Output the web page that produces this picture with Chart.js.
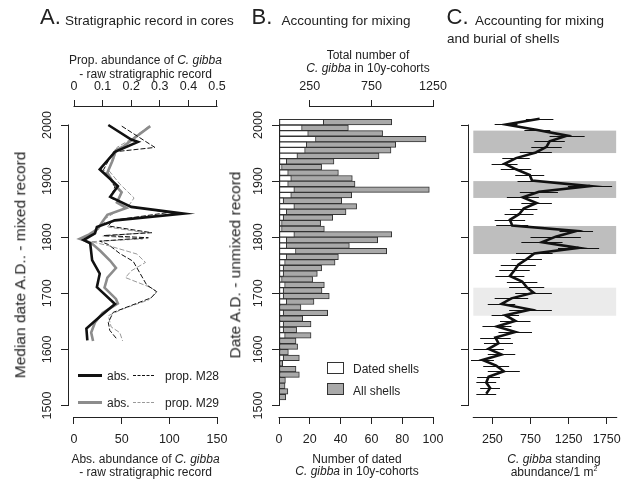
<!DOCTYPE html>
<html><head><meta charset="utf-8">
<script src="https://cdn.jsdelivr.net/npm/chart.js@4"></script>
<style>
html,body{margin:0;padding:0;background:#fff}
body{width:621px;height:481px;overflow:hidden;position:relative;font-family:"Liberation Sans",Arial,Helvetica,sans-serif;color:#222}
canvas{position:absolute;top:0}
.t{position:absolute;white-space:nowrap;line-height:1}
.c{transform:translateX(-50%)}
.r{transform:translate(-50%,-50%) rotate(-90deg)}
.ln{position:absolute;height:0}
.sq{position:absolute;border:1px solid #333;box-sizing:border-box}
</style></head><body>
<canvas id="cA" width="232" height="481" style="left:0"></canvas>
<canvas id="cB" width="224" height="481" style="left:226px"></canvas>
<canvas id="cC" width="173" height="481" style="left:448px"></canvas>

<!-- titles -->
<div class="t" style="left:40px;top:6.4px;font-size:22px">A.</div>
<div class="t" style="left:65px;top:14.1px;font-size:13.5px">Stratigraphic record in cores</div>
<div class="t" style="left:251.5px;top:6.4px;font-size:22px">B.</div>
<div class="t" style="left:281.5px;top:14.1px;font-size:13.5px">Accounting for mixing</div>
<div class="t" style="left:446.5px;top:6.4px;font-size:22px">C.</div>
<div class="t" style="left:475px;top:14.1px;font-size:13.5px">Accounting for mixing</div>
<div class="t" style="left:447px;top:32.1px;font-size:13.5px">and burial of shells</div>

<!-- axis titles -->
<div class="t c" style="left:145.5px;top:54.3px;font-size:12px">Prop. abundance of <i>C. gibba</i></div>
<div class="t c" style="left:145.5px;top:68.3px;font-size:12px">- raw stratigraphic record</div>
<div class="t c" style="left:145.5px;top:452.6px;font-size:12px">Abs. abundance of <i>C. gibba</i></div>
<div class="t c" style="left:145.5px;top:466.3px;font-size:12px">- raw stratigraphic record</div>
<div class="t r" style="left:20px;top:265px;font-size:15.5px">Median date A.D.. - mixed record</div>

<div class="t c" style="left:368px;top:49.3px;font-size:12px">Total number of</div>
<div class="t c" style="left:368px;top:62px;font-size:12px"><i>C. gibba</i> in 10y-cohorts</div>
<div class="t c" style="left:357px;top:453.1px;font-size:12px">Number of dated</div>
<div class="t c" style="left:357px;top:465px;font-size:12px"><i>C. gibba</i> in 10y-cohorts</div>
<div class="t r" style="left:235px;top:265px;font-size:15.5px">Date A.D. - unmixed record</div>

<div class="t c" style="left:554px;top:452.5px;font-size:12px"><i>C. gibba</i> standing</div>
<div class="t c" style="left:554px;top:465.8px;font-size:12px">abundance/1 m<sup style="font-size:7px;vertical-align:5px;line-height:0">2</sup></div>

<!-- legend A -->
<div class="ln" style="left:78px;top:373.5px;width:24px;border-top:3px solid #111"></div>
<div class="t" style="left:107px;top:369.5px;font-size:12px">abs.</div>
<div class="ln" style="left:133px;top:374.5px;width:21px;border-top:1px dashed #111"></div>
<div class="t" style="left:165px;top:369.5px;font-size:12px">prop. M28</div>
<div class="ln" style="left:78px;top:400.5px;width:24px;border-top:3px solid #8c8c8c"></div>
<div class="t" style="left:107px;top:396.5px;font-size:12px">abs.</div>
<div class="ln" style="left:133px;top:401.5px;width:21px;border-top:1px dashed #999"></div>
<div class="t" style="left:165px;top:396.5px;font-size:12px">prop. M29</div>

<!-- legend B -->
<div class="sq" style="left:327px;top:362px;width:17px;height:12px;background:#fff"></div>
<div class="t" style="left:353px;top:362.5px;font-size:12px">Dated shells</div>
<div class="sq" style="left:327px;top:383px;width:17px;height:12px;background:#a9a9a9"></div>
<div class="t" style="left:353px;top:385px;font-size:12px">All shells</div>

<script>
// ---------- tick values ----------
const yearTicks  = [1500, 1600, 1700, 1800, 1900, 2000];
const absTicks   = [0, 50, 100, 150];
const propTicks  = [0, 0.1, 0.2, 0.3, 0.4, 0.5];
const datedTicks = [0, 20, 40, 60, 80, 100];
const totalTicks = [250, 750, 1250];
const standTicks = [250, 750, 1250, 1750];

// ---------- panel A : raw stratigraphic record ----------
const m28AbsYear = [2000,1974,1970,1952,1921,1891,1872,1854,1842,1830,1818,1807,1795,1789,1759,1735,1711,1681,1658,1637,1616];
const m28Abs     = [36,60,67,43,27,46,38,60,115,43,24,22,10,17,19,27,24,43,27,13,14];
const m29AbsYear = [1998,1975,1962,1955,1935,1915,1895,1880,1862,1852,1840,1828,1815,1805,1797,1790,1775,1758,1745,1728,1710,1690,1682,1665,1648,1630,1615];
const m29Abs     = [80,62,52,44,40,35,42,50,45,55,35,30,25,16,6,18,28,38,44,35,32,44,46,30,22,18,20];
const m28PropYear = [1998,1960,1952,1920,1890,1870,1855,1844,1830,1820,1808,1803,1799,1793,1787,1771,1757,1715,1703,1692,1666,1648,1634,1619];
const m28Prop     = [0.167,0.283,0.137,0.103,0.143,0.128,0.196,0.33,0.135,0.12,0.272,0.104,0.26,0.09,0.12,0.16,0.207,0.254,0.289,0.27,0.137,0.12,0.125,0.149];
const m29PropYear = [1997,1975,1960,1940,1920,1895,1870,1855,1843,1830,1818,1808,1802,1797,1792,1785,1770,1755,1740,1728,1710,1702,1688,1672,1660,1640,1630,1615];
const m29Prop     = [0.26,0.20,0.15,0.14,0.12,0.16,0.21,0.19,0.14,0.10,0.12,0.25,0.10,0.24,0.06,0.12,0.22,0.25,0.20,0.18,0.27,0.29,0.26,0.17,0.12,0.13,0.16,0.17];

// ---------- panel B : 10-year cohorts ----------
const cohorts = [2005,1995,1985,1975,1965,1955,1945,1935,1925,1915,1905,1895,1885,1875,1865,1855,1845,1835,1825,1815,1805,1795,1785,1775,1765,1755,1745,1735,1725,1715,1705,1695,1685,1675,1665,1655,1645,1635,1625,1615,1605,1595,1585,1575,1565,1555,1545,1535,1525,1515];
const datedShells = [29,15,19,24,18,17,12,5,2,6,8,6,10,8,3,10,5,3,2,2,10,5,5,11,5,4,3,3,2,4,3,3,5,1,3,1,3,3,4,1,1,1,3,1,1,1,0,0,0,0];
const allShells   = [915,563,841,1193,947,909,812,446,346,482,595,617,1220,590,509,630,544,436,338,368,915,801,571,874,482,455,346,311,273,368,349,408,284,178,395,192,260,143,260,138,151,76,165,30,138,165,52,49,72,55];

// ---------- panel C : standing abundance ----------
const standYear = [2011,2001,1991,1981,1971,1961,1951,1941,1931,1921,1911,1901,1891,1881,1871,1861,1851,1841,1831,1821,1811,1801,1791,1781,1771,1761,1751,1741,1731,1721,1711,1701,1691,1681,1671,1661,1651,1641,1631,1621,1611,1601,1591,1581,1571,1561,1551,1541,1531,1521];
const standAbund = [870,430,840,1230,1000,960,820,560,410,560,740,770,1530,860,650,830,660,600,480,510,1350,1080,900,1380,800,700,590,540,480,640,700,790,500,370,750,420,550,310,550,290,330,200,370,120,300,400,200,170,220,170];
const standErr   = [180,150,170,230,200,200,210,180,170,200,190,190,290,250,210,200,180,190,200,210,220,330,270,270,240,200,230,200,190,200,230,240,220,180,280,180,200,190,220,200,190,200,180,150,170,210,150,130,130,130];
const bandFrom = [1950, 1870, 1770, 1660];
const bandTo   = [1990, 1900, 1820, 1710];

// ---------- helpers ----------
Chart.defaults.font.family = '"Liberation Sans", Arial, Helvetica, sans-serif';
Chart.defaults.color = '#222';

const Y_MIN = 1479.5, Y_MAX = 2032.1;

function axis(pos, min, max, ticks, size, extra) {
  const horiz = (pos === 'top' || pos === 'bottom');
  const cfg = {
    type: 'linear', position: pos, min: min, max: max, offset: false,
    afterBuildTicks: s => { s.ticks = ticks.map(v => ({ value: v })); },
    afterFit: s => {
      if (horiz) { s.height = size; s.paddingLeft = 0; s.paddingRight = 0; }
      else { s.width = size; s.paddingTop = 0; s.paddingBottom = 0; }
    },
    grid: { display: true, drawOnChartArea: false, drawTicks: true, tickLength: 7, tickColor: '#222', color: '#222', lineWidth: 1, offset: false },
    border: { display: false },
    ticks: {
      autoSkip: false, color: '#222', font: { size: 12.5 },
      padding: pos === 'top' ? 6 : (pos === 'bottom' ? 8.5 : 0),
      minRotation: horiz ? 0 : 90, maxRotation: horiz ? 0 : 90,
      crossAlign: horiz ? 'near' : 'center',
      callback: v => String(v)
    }
  };
  if (extra && extra.ticks) Object.assign(cfg.ticks, extra.ticks);
  return cfg;
}

const rPlot = {
  id: 'rPlot',
  beforeDatasetsDraw(chart, args, o) {
    const ctx = chart.ctx;
    const xs = chart.scales.x, ys = chart.scales.y;
    ctx.save();
    if (o.bands) {
      o.bands.from.forEach((f, i) => {
        const y1 = ys.getPixelForValue(o.bands.to[i]), y2 = ys.getPixelForValue(f);
        const x1 = xs.getPixelForValue(o.bands.x0), x2 = xs.getPixelForValue(o.bands.x1);
        ctx.fillStyle = o.bands.colors[i];
        ctx.fillRect(x1, y1, x2 - x1, y2 - y1);
      });
    }
    if (o.err) {
      ctx.strokeStyle = '#111'; ctx.lineWidth = 1;
      o.err.y.forEach((yr, i) => {
        const py = Math.round(ys.getPixelForValue(yr)) + 0.5;
        ctx.beginPath();
        ctx.moveTo(xs.getPixelForValue(o.err.v[i] - o.err.e[i]), py);
        ctx.lineTo(xs.getPixelForValue(o.err.v[i] + o.err.e[i]), py);
        ctx.stroke();
      });
    }
    ctx.restore();
  },
  afterDraw(chart, args, o) {
    const ctx = chart.ctx;
    ctx.save();
    ctx.strokeStyle = '#222'; ctx.lineWidth = 1;
    (o.lines || []).forEach(l => {
      const s = chart.scales[l.id];
      ctx.beginPath();
      if (s.isHorizontal()) {
        const y = (s.position === 'top' ? s.bottom : s.top);
        const py = s.position === 'top' ? y - 0.5 : y + 0.5;
        ctx.moveTo(s.getPixelForValue(l.from) - 0.5, py);
        ctx.lineTo(s.getPixelForValue(l.to) + 0.5, py);
      } else {
        const px = s.right + 0.5;
        ctx.moveTo(px, s.getPixelForValue(l.to) - 0.5);
        ctx.lineTo(px, s.getPixelForValue(l.from) + 0.5);
      }
      ctx.stroke();
    });
    ctx.restore();
  }
};

const common = {
  responsive: false, animation: false, events: [],
  plugins: { legend: { display: false }, tooltip: { enabled: false }, title: { display: false } }
};

const pts = (xs, ys) => xs.map((x, i) => ({ x: x, y: ys[i] }));

// ---------- Panel A ----------
new Chart(document.getElementById('cA'), {
  type: 'scatter',
  data: { datasets: [
    { data: pts(m28Abs, m28AbsYear), xAxisID: 'x', showLine: true, borderColor: '#111', borderWidth: 2.6, pointRadius: 0, tension: 0 },
    { data: pts(m28Prop, m28PropYear), xAxisID: 'x2', showLine: true, borderColor: '#111', borderWidth: 1, borderDash: [5, 2], pointRadius: 0, tension: 0 },
    { data: pts(m29Abs, m29AbsYear), xAxisID: 'x', showLine: true, borderColor: '#8c8c8c', borderWidth: 2.6, pointRadius: 0, tension: 0 },
    { data: pts(m29Prop, m29PropYear), xAxisID: 'x2', showLine: true, borderColor: '#999', borderWidth: 1, borderDash: [5, 2], pointRadius: 0, tension: 0 }
  ]},
  options: Object.assign({}, common, {
    layout: { padding: { left: 0, right: 9, top: 0, bottom: 0 } },
    scales: {
      x: axis('bottom', -6.29, 156.29, absTicks, 64),
      x2: axis('top', -0.02098, 0.52098, propTicks, 107),
      y: axis('left', Y_MIN, Y_MAX, yearTicks, 68)
    },
    plugins: Object.assign({}, common.plugins, {
      rPlot: { lines: [ { id: 'x', from: 0, to: 150 }, { id: 'x2', from: 0, to: 0.5 }, { id: 'y', from: 1500, to: 2000 } ] }
    })
  }),
  plugins: [rPlot]
});

// ---------- Panel B ----------
new Chart(document.getElementById('cB'), {
  type: 'bar',
  data: { datasets: [
    { label: 'Dated shells', data: pts(datedShells, cohorts), xAxisID: 'x', backgroundColor: '#ffffff', borderColor: '#333', borderWidth: 1, borderSkipped: false, grouped: false, barPercentage: 1, categoryPercentage: 1 },
    { label: 'All shells', data: pts(allShells, cohorts), xAxisID: 'x2', backgroundColor: '#a9a9a9', borderColor: '#333', borderWidth: 1, borderSkipped: false, grouped: false, barPercentage: 1, categoryPercentage: 1 }
  ]},
  options: Object.assign({}, common, {
    indexAxis: 'y',
    layout: { padding: { left: 0, right: 17, top: 0, bottom: 0 } },
    scales: {
      x: axis('bottom', 0, 100, datedTicks, 64),
      x2: axis('top', 0, 1250, totalTicks, 107),
      y: axis('left', Y_MIN, Y_MAX, yearTicks, 53)
    },
    plugins: Object.assign({}, common.plugins, {
      rPlot: { lines: [ { id: 'x', from: 0, to: 100 }, { id: 'x2', from: 250, to: 1250 }, { id: 'y', from: 1500, to: 2000 } ] }
    })
  }),
  plugins: [rPlot]
});

// ---------- Panel C ----------
new Chart(document.getElementById('cC'), {
  type: 'scatter',
  data: { datasets: [
    { data: pts(standAbund, standYear), xAxisID: 'x', showLine: true, borderColor: '#111', borderWidth: 2.6, pointRadius: 0, tension: 0 }
  ]},
  options: Object.assign({}, common, {
    layout: { padding: { left: 0, right: 0, top: 107, bottom: 0 } },
    scales: {
      x: axis('bottom', -69.5, 1936.5, standTicks, 64),
      y: axis('left', Y_MIN, Y_MAX, yearTicks, 20, { ticks: { display: false } })
    },
    plugins: Object.assign({}, common.plugins, {
      rPlot: {
        lines: [ { id: 'x', from: 0, to: 1880 }, { id: 'y', from: 1500, to: 2000 } ],
        bands: { from: bandFrom, to: bandTo, x0: 0, x1: 1873, colors: ['#bebebe', '#bebebe', '#bebebe', '#ebebeb'] },
        err: { y: standYear, v: standAbund, e: standErr }
      }
    })
  }),
  plugins: [rPlot]
});
</script>
</body></html>
